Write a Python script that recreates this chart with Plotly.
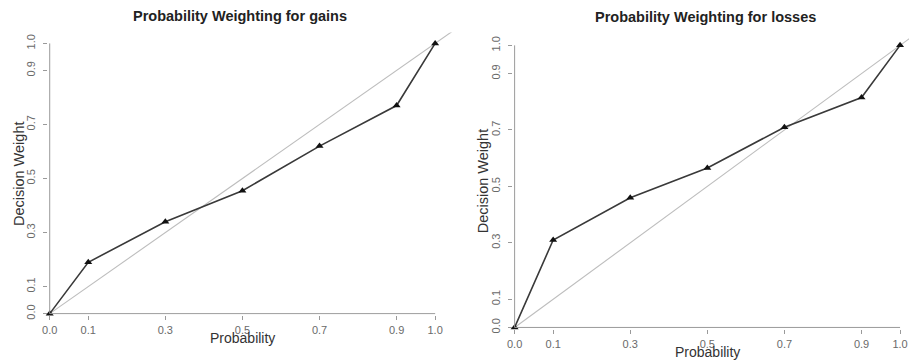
import plotly.graph_objects as go

# Data
probs = [0.0, 0.1, 0.3, 0.5, 0.7, 0.9, 1.0]
gains_weight = [0.0, 0.19, 0.34, 0.455, 0.62, 0.77, 1.0]
losses_weight = [0.0, 0.31, 0.46, 0.565, 0.71, 0.815, 1.0]
tick_vals = [0.0, 0.1, 0.3, 0.5, 0.7, 0.9, 1.0]
tick_text = ["0.0", "0.1", "0.3", "0.5", "0.7", "0.9", "1.0"]
titles = ["Probability Weighting for gains", "Probability Weighting for losses"]

W, H = 909, 364
FONT = "Liberation Sans, Arial, sans-serif"
LINE_C = "#3a3a3a"
DIAG_C = "#bdbdbd"
AXIS_C = "#9a9a9a"
TICK_C = "#6a6a6a"

fig = go.Figure()

panels = [
    dict(x0=44, sx=388, xmax=1.046, y0=318, sy=274, ymax=1.040),
    dict(x0=512, sx=388, xmax=(909 - 512) / 388, y0=332, sy=286, ymax=1.042),
]
pad = 0.004
series = [gains_weight, losses_weight]

for i, (p, wts) in enumerate(zip(panels, series)):
    xa = "x" if i == 0 else "x2"
    ya = "y" if i == 0 else "y2"
    xl = "xaxis" if i == 0 else "xaxis2"
    yl = "yaxis" if i == 0 else "yaxis2"
    xmin = -pad
    ymin = -pad
    dx0 = (p["x0"] + xmin * p["sx"]) / W
    dx1 = min(1.0, (p["x0"] + p["xmax"] * p["sx"]) / W)
    dy0 = (H - (p["y0"] - ymin * p["sy"])) / H
    dy1 = (H - (p["y0"] - p["ymax"] * p["sy"])) / H

    diag_end = max(p["xmax"], p["ymax"]) + 0.05
    fig.add_trace(go.Scatter(x=[0, diag_end], y=[0, diag_end], mode="lines",
                             line=dict(color=DIAG_C, width=1.1),
                             xaxis=xa, yaxis=ya, showlegend=False, hoverinfo="skip"))
    fig.add_trace(go.Scatter(x=probs, y=wts, mode="lines+markers",
                             line=dict(color=LINE_C, width=1.6),
                             marker=dict(symbol="triangle-up", size=7, color="#111"),
                             cliponaxis=False,
                             xaxis=xa, yaxis=ya, showlegend=False))

    axcommon = dict(showgrid=False, zeroline=False, showline=False,
                    tickmode="array", tickvals=tick_vals, ticktext=tick_text,
                    ticks="outside", ticklen=4, tickcolor=AXIS_C, tickwidth=1,
                    tickfont=dict(family=FONT, size=11, color=TICK_C))
    fig.layout[xl] = dict(domain=[dx0, dx1], range=[xmin, p["xmax"]], anchor=ya,
                          ticklabelstandoff=1, **axcommon)
    fig.layout[yl] = dict(domain=[dy0, dy1], range=[ymin, p["ymax"]], anchor=xa,
                          tickangle=-90, ticklabelstandoff=4, **axcommon)

    # R-style axis lines spanning only 0..1
    fig.add_shape(type="line", xref=xa, yref=ya, x0=0, x1=1, y0=0, y1=0,
                  line=dict(color=AXIS_C, width=1))
    fig.add_shape(type="line", xref=xa, yref=ya, x0=0, x1=0, y0=0, y1=1,
                  line=dict(color=AXIS_C, width=1))

    cx = (p["x0"] + 0.5 * p["sx"]) / W
    fig.add_annotation(text="<b>" + titles[i] + "</b>", xref="paper", yref="paper",
                       x=cx - 2 / W, y=(H - (16.5 if i == 0 else 17)) / H, showarrow=False,
                       xanchor="center", yanchor="middle",
                       font=dict(family=FONT, size=14.5, color="#222"))
    fig.add_annotation(text="Probability", xref="paper", yref="paper",
                       x=cx, y=(H - (p["y0"] + 25)) / H, showarrow=False,
                       xanchor="center", yanchor="middle",
                       font=dict(family=FONT, size=14, color="#333"))
    ycen = p["y0"] - 0.5 * p["ymax"] * p["sy"]
    fig.add_annotation(text="Decision Weight", xref="paper", yref="paper",
                       x=(p["x0"] - 31) / W, y=(H - ycen) / H, showarrow=False,
                       textangle=-90, xanchor="center", yanchor="middle",
                       font=dict(family=FONT, size=14.5, color="#333"))

fig.update_layout(width=W, height=H, margin=dict(l=0, r=0, t=0, b=0),
                  paper_bgcolor="white", plot_bgcolor="white",
                  font=dict(family=FONT))

fig.write_html("out.html")
